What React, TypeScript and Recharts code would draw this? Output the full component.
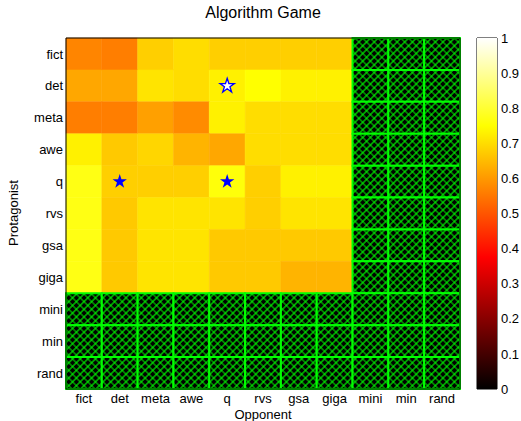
import React from 'react';
import {
    ScatterChart,
    Scatter,
    XAxis,
    YAxis,
    ZAxis,
    ReferenceArea,
    BarChart,
    Bar
} from 'recharts';

const protagonists = ['fict', 'det', 'meta', 'awe', 'q', 'rvs', 'gsa', 'giga', 'mini', 'min', 'rand'];
const opponents = ['fict', 'det', 'meta', 'awe', 'q', 'rvs', 'gsa', 'giga', 'mini', 'min', 'rand'];

// score of protagonist (row) against the first 8 opponents, the rest were never played
const fictRow = [0.57, 0.56, 0.68, 0.70, 0.68, 0.68, 0.68, 0.68];
const detRow = [0.62, 0.62, 0.71, 0.70, 0.73, 0.75, 0.73, 0.73];
const metaRow = [0.56, 0.56, 0.61, 0.58, 0.73, 0.70, 0.70, 0.70];
const aweRow = [0.73, 0.67, 0.69, 0.64, 0.62, 0.70, 0.70, 0.70];
const qRow = [0.77, 0.68, 0.68, 0.68, 0.76, 0.68, 0.73, 0.73];
const rvsRow = [0.77, 0.67, 0.71, 0.71, 0.71, 0.68, 0.71, 0.71];
const gsaRow = [0.77, 0.67, 0.71, 0.71, 0.67, 0.67, 0.67, 0.67];
const gigaRow = [0.77, 0.67, 0.71, 0.71, 0.67, 0.67, 0.64, 0.64];
const playedRows = [fictRow, detRow, metaRow, aweRow, qRow, rvsRow, gsaRow, gigaRow];

// stars mark the equilibria (x = opponent index, y = protagonist index, 1-based)
const hollowStars = [{ x: 5, y: 2 }];
const solidStars = [{ x: 2, y: 5 }, { x: 5, y: 5 }];

const colorbarTicks = [0, 0.1, 0.2, 0.3, 0.4, 0.5, 0.6, 0.7, 0.8, 0.9, 1];
const colorbarData = [{ name: 'cb', level: 1 }];

const FONT = '"Liberation Sans", Arial, Helvetica, sans-serif';

// matlab "hot" colormap
const hot = (v: number) => {
    const c = (t: number) => Math.round(Math.max(0, Math.min(1, t)) * 255);
    return `rgb(${c(v / 0.375)},${c((v - 0.375) / 0.375)},${c((v - 0.75) / 0.25)})`;
};

const cells: { r: number; c: number; value: number | null }[] = [];
protagonists.forEach((_, r) => {
    opponents.forEach((_, c) => {
        const row = playedRows[r];
        cells.push({ r: r + 1, c: c + 1, value: row && row[c] !== undefined ? row[c] : null });
    });
});

const idxTicks = protagonists.map((_, i) => i + 1);

const App: React.FC = () => {
    const filled = cells.filter(d => d.value !== null);
    const missing = cells.filter(d => d.value === null);

    return (
        <div style={{ position: 'absolute', left: 0, top: 0, width: 521, height: 421, background: '#fff', fontFamily: FONT, color: '#000' }}>
            <div style={{ position: 'absolute', left: 66, top: 3, width: 394, textAlign: 'center', fontSize: 16, lineHeight: '19px' }}>
                Algorithm Game
            </div>
            <div style={{ position: 'absolute', left: 66, top: 407, width: 394, textAlign: 'center', fontSize: 13, lineHeight: '16px' }}>
                Opponent
            </div>
            <div style={{ position: 'absolute', left: 14, top: 213, transform: 'translate(-50%, -50%) rotate(-90deg)', fontSize: 13, lineHeight: '16px', whiteSpace: 'nowrap' }}>
                Protagonist
            </div>

            <div style={{ position: 'absolute', left: 0, top: 0 }}>
                <ScatterChart width={470} height={421} margin={{ top: 38, right: 10, bottom: 0, left: 0 }}>
                    <defs>
                        <pattern id="nanHatch" width={5.4} height={5.4} patternUnits="userSpaceOnUse" patternTransform="rotate(45)">
                            <rect width={5.4} height={5.4} fill="#000" />
                            <path d="M0,2.7 H5.4 M2.7,0 V5.4" stroke="#00ff00" strokeWidth={1.1} />
                        </pattern>
                    </defs>
                    <XAxis
                        type="number"
                        dataKey="x"
                        domain={[0.5, 11.5]}
                        ticks={idxTicks}
                        interval={0}
                        tickFormatter={(v: number) => opponents[v - 1]}
                        height={32}
                        axisLine={false}
                        tickLine={false}
                        tickSize={4}
                        tickMargin={1}
                        tick={{ fill: '#000', fontSize: 13, fontFamily: FONT }}
                        allowDataOverflow
                    />
                    <YAxis
                        type="number"
                        dataKey="y"
                        domain={[0.5, 11.5]}
                        reversed
                        ticks={idxTicks}
                        interval={0}
                        tickFormatter={(v: number) => protagonists[v - 1]}
                        width={66}
                        axisLine={false}
                        tickLine={false}
                        tickSize={3}
                        tickMargin={0}
                        tick={{ fill: '#000', fontSize: 13, fontFamily: FONT }}
                        allowDataOverflow
                    />
                    <ZAxis range={[90, 90]} />
                    {filled.map(d => (
                        <ReferenceArea
                            key={`f-${d.r}-${d.c}`}
                            x1={d.c - 0.5}
                            x2={d.c + 0.5}
                            y1={d.r - 0.5}
                            y2={d.r + 0.5}
                            fill={hot(d.value as number)}
                            fillOpacity={1}
                            stroke={hot(d.value as number)}
                            strokeWidth={0.5}
                        />
                    ))}
                    {missing.map(d => (
                        <ReferenceArea
                            key={`m-${d.r}-${d.c}`}
                            x1={d.c - 0.5}
                            x2={d.c + 0.5}
                            y1={d.r - 0.5}
                            y2={d.r + 0.5}
                            fill="url(#nanHatch)"
                            fillOpacity={1}
                            stroke="#00ff00"
                            strokeWidth={2}
                        />
                    ))}
                    <ReferenceArea x1={0.5} x2={11.5} y1={0.5} y2={11.5} fill="none" stroke="#000" strokeWidth={1} />
                    <Scatter data={hollowStars} shape="star" fill="#fff" stroke="#0000ff" strokeWidth={1.3} isAnimationActive={false} />
                    <Scatter data={solidStars} shape="star" fill="#0000ff" isAnimationActive={false} />
                </ScatterChart>
            </div>

            <div style={{ position: 'absolute', left: 472, top: 0 }}>
                <BarChart width={49} height={421} data={colorbarData} margin={{ top: 38, right: 0, bottom: 32, left: 5 }} barCategoryGap={0}>
                    <defs>
                        <linearGradient id="hotGrad" x1="0" y1="1" x2="0" y2="0">
                            <stop offset="0" stopColor="#000" />
                            <stop offset="0.375" stopColor="#ff0000" />
                            <stop offset="0.75" stopColor="#ffff00" />
                            <stop offset="1" stopColor="#ffffff" />
                        </linearGradient>
                    </defs>
                    <XAxis dataKey="name" hide />
                    <YAxis
                        orientation="right"
                        domain={[0, 1]}
                        ticks={colorbarTicks}
                        interval={0}
                        width={24}
                        axisLine={false}
                        tickLine={false}
                        tickSize={4}
                        tickMargin={0}
                        tick={{ fill: '#000', fontSize: 13, fontFamily: FONT }}
                    />
                    <Bar dataKey="level" fill="url(#hotGrad)" isAnimationActive={false} />
                    <ReferenceArea y1={0} y2={1} fill="none" stroke="#000" strokeWidth={1} />
                </BarChart>
            </div>
        </div>
    );
};

export default App;
